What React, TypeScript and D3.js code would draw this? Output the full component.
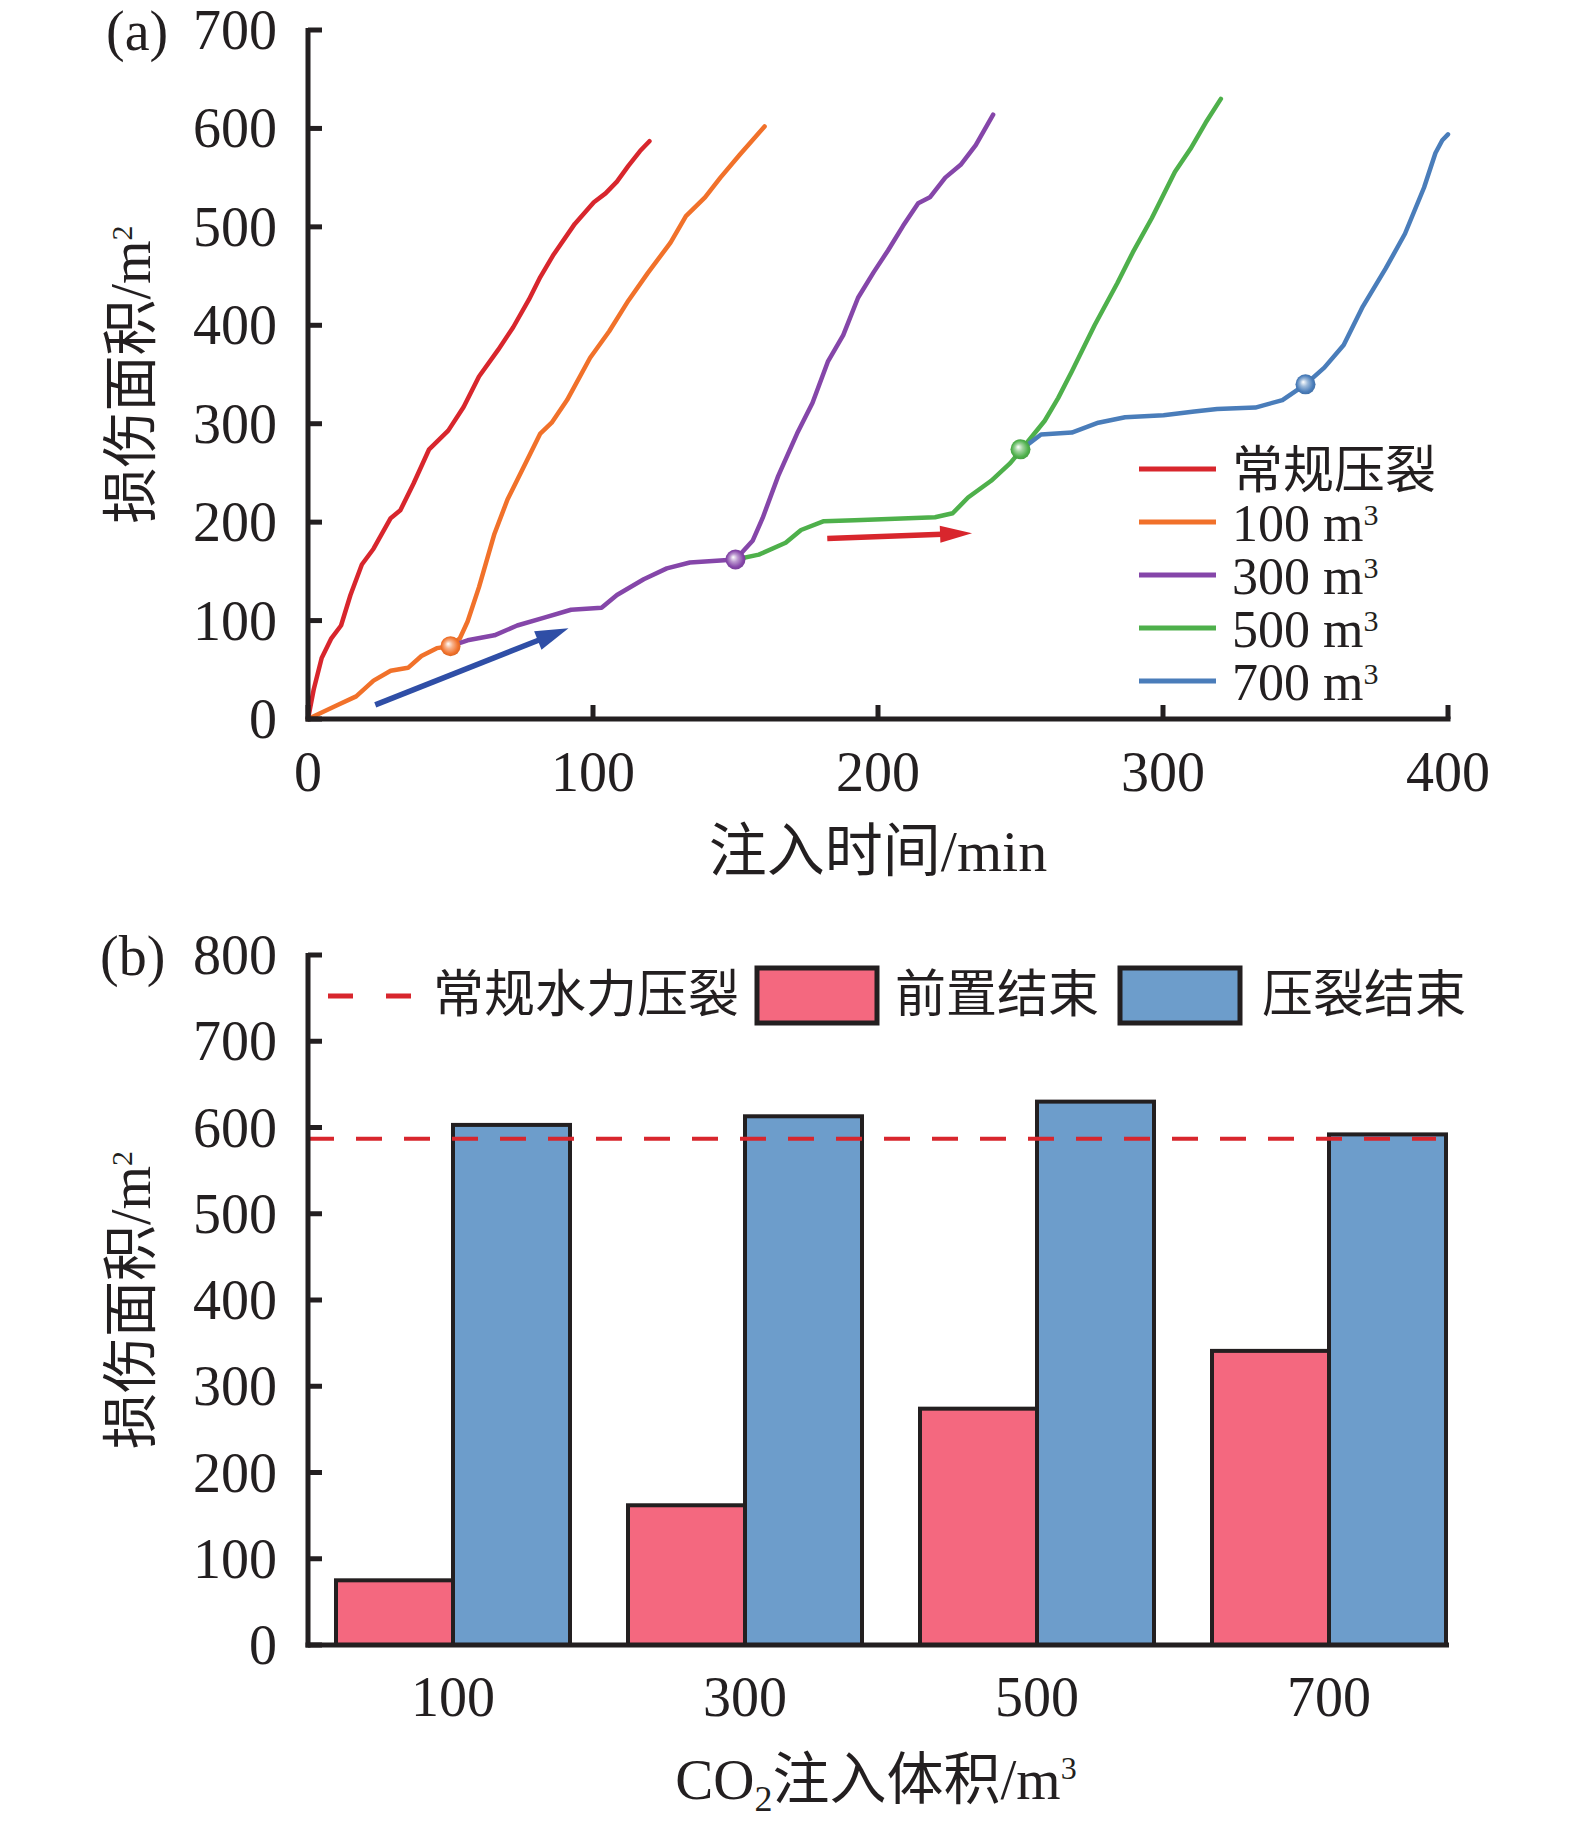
import React from "react";
import * as d3 from "d3";

// ---------- Panel (a) data: injection time (min) vs damaged area (m²) ----------
const timeTicks = [0, 100, 200, 300, 400];
const areaTicksA = [0, 100, 200, 300, 400, 500, 600, 700];

const conventional: [number, number][] = [
  [0, 0], [2, 30], [4.8, 62], [8.2, 82], [11.6, 95], [14.9, 126], [18.9, 157], [23, 173],
  [29, 204], [32.4, 212], [37, 239], [42.5, 274], [49.2, 293], [54.6, 317], [60, 348],
  [66.7, 375], [72, 398], [77.5, 426], [81.5, 449], [86.2, 472], [93.6, 503], [100.3, 525],
  [104.4, 534], [108.4, 546], [112.4, 562], [116.5, 577], [119.8, 587],
];
const co2_100: [number, number][] = [
  [0, 0], [10.2, 14], [16.9, 23], [23, 39], [29, 49], [35.1, 52], [39.8, 64], [45.2, 72],
  [50, 74], [53.3, 82], [56, 99], [60, 134], [65.4, 188], [70, 223], [74.8, 251], [81.5, 290],
  [85.5, 301], [90.9, 324], [99, 367], [105.7, 394], [112.4, 425], [119.2, 453], [127.2, 484],
  [132.6, 511], [139.3, 530], [144.7, 550], [151.4, 573], [160.2, 602],
];
const co2_300: [number, number][] = [
  [50, 74], [56, 80], [65.4, 85], [73.4, 95], [82.9, 103], [92.3, 111], [103, 113],
  [108.4, 126], [117.8, 142], [125.9, 153], [134, 159], [144.7, 161], [150, 162], [156, 181],
  [159.5, 204], [165, 247], [171.6, 290], [177, 321], [182.4, 363], [187.8, 390], [193, 428],
  [198.5, 454], [203.5, 476], [208.8, 501], [214.1, 524], [218.2, 530], [223.6, 550],
  [229, 563], [234.3, 583], [240.4, 614],
];
const co2_500: [number, number][] = [
  [150, 162], [158.2, 167], [167.6, 179], [173, 192], [181, 201], [191.8, 202], [206, 203.5],
  [220, 205], [226.2, 209], [231.6, 225], [239.7, 242], [246.4, 260], [250.4, 274],
  [258.5, 303], [263.2, 326], [268, 353], [276, 400], [284, 443], [289.4, 474], [296.1, 509],
  [304.2, 556], [309.6, 579], [315, 606], [320.3, 630],
];
const co2_700: [number, number][] = [
  [250.4, 274], [257.2, 289], [268, 291], [277.3, 301], [286.7, 306.6], [300.2, 308.6],
  [311, 312.5], [319, 315], [332.4, 316.4], [341.9, 324], [350, 340], [356.6, 357],
  [363.4, 380], [370.1, 419], [378.2, 458], [384.9, 493], [391.6, 540], [395.6, 575],
  [398, 588], [400, 594],
];
const seriesNames = ["常规压裂", "100", "300", "500", "700"];
const seriesColors = ["#d8262d", "#f1712a", "#8546a9", "#4eb04b", "#4a7dba"];
const seriesData = [conventional, co2_100, co2_300, co2_500, co2_700];
const breakPoints: [number, number][] = [[50, 74], [150, 162], [250, 274], [350, 340]];
const breakColors = ["#f1712a", "#8546a9", "#4eb04b", "#4a7dba"];
const blueArrow: [number, number][] = [[23.6, 14.3], [91.4, 92.1]];
const redArrow: [number, number][] = [[182.2, 183.5], [233, 188.8]];

// ---------- Panel (b) data ----------
const volumes = ["100", "300", "500", "700"];
const padEndArea = [75, 162, 274, 341];
const fracEndArea = [603, 613, 630, 592];
const conventionalArea = 587;
const areaTicksB = [0, 100, 200, 300, 400, 500, 600, 700, 800];

const FONT = "'Liberation Serif','Noto Sans CJK SC',serif";
const INK = "#231f20";

function Arrow({ p0, p1, color, head, half, w }: any) {
  const dx = p1[0] - p0[0];
  const dy = p1[1] - p0[1];
  const L = Math.hypot(dx, dy);
  const ux = dx / L, uy = dy / L;
  const bx = p1[0] - ux * head, by = p1[1] - uy * head;
  const px = -uy, py = ux;
  const pts = [
    [p1[0], p1[1]],
    [bx + px * half, by + py * half],
    [bx - px * half, by - py * half],
  ];
  return (
    <g>
      <line x1={p0[0]} y1={p0[1]} x2={bx + ux * 2} y2={by + uy * 2} stroke={color} strokeWidth={w} />
      <polygon points={pts.map((p) => p.join(",")).join(" ")} fill={color} />
    </g>
  );
}

export default function App() {
  // Panel a scales
  const xA = d3.scaleLinear().domain([0, 400]).range([308, 1448]);
  const yA = d3.scaleLinear().domain([0, 700]).range([719, 30]);
  const line = d3
    .line<[number, number]>()
    .x((d) => xA(d[0]))
    .y((d) => yA(d[1]))
    .curve(d3.curveLinear);

  // Panel b scales
  const yB = d3.scaleLinear().domain([0, 800]).range([1645, 955]);
  const xB = d3.scalePoint<string>().domain(volumes).range([453, 1329]);
  const barW = 117;

  const legendAY = [469, 522, 575, 628, 681];

  const tickLen = 14;
  const axisW = 5;

  return (
    <svg
      width={1575}
      height={1829}
      viewBox="0 0 1575 1829"
      style={{ position: "absolute", left: 0, top: 0, background: "#fff" }}
      fontFamily={FONT}
    >
      <defs>
        {breakColors.map((c, i) => (
          <radialGradient key={i} id={`g${i}`} cx="0.5" cy="0.5" r="0.55" fx="0.38" fy="0.38">
            <stop offset="0" stopColor="#ffffff" />
            <stop offset="0.35" stopColor={d3.interpolateRgb("#ffffff", c)(0.55)} />
            <stop offset="0.75" stopColor={c} />
            <stop offset="1" stopColor={d3.color(c)!.darker(0.4).toString()} />
          </radialGradient>
        ))}
      </defs>
      <rect x={0} y={0} width={1575} height={1829} fill="#fff" />

      {/* ================= Panel (a) ================= */}
      <text x={106} y={50} fontSize={56} fill={INK}>(a)</text>

      {seriesData.map((s, i) => (
        <path key={i} d={line(s) || ""} fill="none" stroke={seriesColors[i]} strokeWidth={4.5}
          strokeLinejoin="round" strokeLinecap="round" />
      ))}

      <Arrow p0={[xA(blueArrow[0][0]), yA(blueArrow[0][1])]} p1={[xA(blueArrow[1][0]), yA(blueArrow[1][1])]}
        color="#2f4ea6" head={33} half={10} w={5.5} />
      <Arrow p0={[xA(redArrow[0][0]), yA(redArrow[0][1])]} p1={[xA(redArrow[1][0]), yA(redArrow[1][1])]}
        color="#d8262d" head={32} half={8.5} w={5.5} />

      {breakPoints.map((p, i) => (
        <circle key={i} cx={xA(p[0])} cy={yA(p[1])} r={10} fill={`url(#g${i})`} />
      ))}

      <line x1={xA(0)} y1={yA(700) - 2} x2={xA(0)} y2={yA(0) + 2.5} stroke={INK} strokeWidth={axisW} />
      <line x1={xA(0) - 2.5} y1={yA(0)} x2={xA(400) + 2.5} y2={yA(0)} stroke={INK} strokeWidth={axisW} />
      {areaTicksA.map((t) => (
        <g key={t}>
          <line x1={xA(0)} x2={xA(0) + tickLen} y1={yA(t)} y2={yA(t)} stroke={INK} strokeWidth={axisW} />
          <text x={277} y={yA(t)} dy="0.34em" textAnchor="end" fontSize={56} fill={INK}>{t}</text>
        </g>
      ))}
      {timeTicks.map((t) => (
        <g key={t}>
          <line x1={xA(t)} x2={xA(t)} y1={yA(0)} y2={yA(0) - tickLen} stroke={INK} strokeWidth={axisW} />
          <text x={xA(t)} y={791} textAnchor="middle" fontSize={56} fill={INK}>{t}</text>
        </g>
      ))}
      <text x={878} y={871} textAnchor="middle" fontSize={58} fill={INK}>注入时间/min</text>
      <text transform={`translate(150,${(yA(0) + yA(700)) / 2}) rotate(-90)`} textAnchor="middle"
        fontSize={56} fill={INK}>
        损伤面积/m<tspan fontSize={30} dy={-18}>2</tspan>
      </text>

      {seriesNames.map((n, i) => (
        <g key={n}>
          <line x1={1139} x2={1216} y1={legendAY[i]} y2={legendAY[i]} stroke={seriesColors[i]} strokeWidth={5} />
          {i === 0 ? (
            <text x={1232} y={legendAY[i] + 19} fontSize={51} fill={INK}>{n}</text>
          ) : (
            <text x={1232} y={legendAY[i] + 19} fontSize={52} fill={INK}>
              {n} m<tspan fontSize={30} dy={-16}>3</tspan>
            </text>
          )}
        </g>
      ))}

      {/* ================= Panel (b) ================= */}
      <text x={100} y={975} fontSize={56} fill={INK}>(b)</text>

      {volumes.map((v, i) => {
        const cx = xB(v)!;
        return (
          <g key={v}>
            <rect x={cx - barW} y={yB(padEndArea[i])} width={barW} height={yB(0) - yB(padEndArea[i])}
              fill="#f4687f" stroke={INK} strokeWidth={4} />
            <rect x={cx} y={yB(fracEndArea[i])} width={barW} height={yB(0) - yB(fracEndArea[i])}
              fill="#6d9dcb" stroke={INK} strokeWidth={4} />
            <text x={cx} y={1716} textAnchor="middle" fontSize={56} fill={INK}>{v}</text>
          </g>
        );
      })}

      <line x1={xA(0)} x2={1436} y1={yB(conventionalArea)} y2={yB(conventionalArea)} stroke="#d8262d"
        strokeWidth={4} strokeDasharray="26,22" />

      <line x1={xA(0)} y1={yB(800) - 2} x2={xA(0)} y2={yB(0) + 2.5} stroke={INK} strokeWidth={axisW} />
      <line x1={xA(0) - 2.5} y1={yB(0)} x2={1449} y2={yB(0)} stroke={INK} strokeWidth={axisW} />
      {areaTicksB.map((t) => (
        <g key={t}>
          <line x1={xA(0)} x2={xA(0) + tickLen} y1={yB(t)} y2={yB(t)} stroke={INK} strokeWidth={axisW} />
          <text x={277} y={yB(t)} dy="0.34em" textAnchor="end" fontSize={56} fill={INK}>{t}</text>
        </g>
      ))}
      <text x={876} y={1799} textAnchor="middle" fontSize={57} fill={INK}>
        CO<tspan fontSize={36} dy={12}>2</tspan><tspan dy={-12}>注入体积/m</tspan>
        <tspan fontSize={32} dy={-20}>3</tspan>
      </text>
      <text transform={`translate(150,${(yB(0) + yB(800)) / 2}) rotate(-90)`} textAnchor="middle"
        fontSize={56} fill={INK}>
        损伤面积/m<tspan fontSize={30} dy={-18}>2</tspan>
      </text>

      <line x1={328} x2={411} y1={996} y2={996} stroke="#d8262d" strokeWidth={5} strokeDasharray="25,33" />
      <text x={433} y={1012} fontSize={51} fill={INK}>常规水力压裂</text>
      <rect x={757} y={968} width={120} height={55} fill="#f4687f" stroke={INK} strokeWidth={5} />
      <text x={895} y={1012} fontSize={51} fill={INK}>前置结束</text>
      <rect x={1120} y={968} width={120} height={55} fill="#6d9dcb" stroke={INK} strokeWidth={5} />
      <text x={1262} y={1012} fontSize={51} fill={INK}>压裂结束</text>
    </svg>
  );
}
